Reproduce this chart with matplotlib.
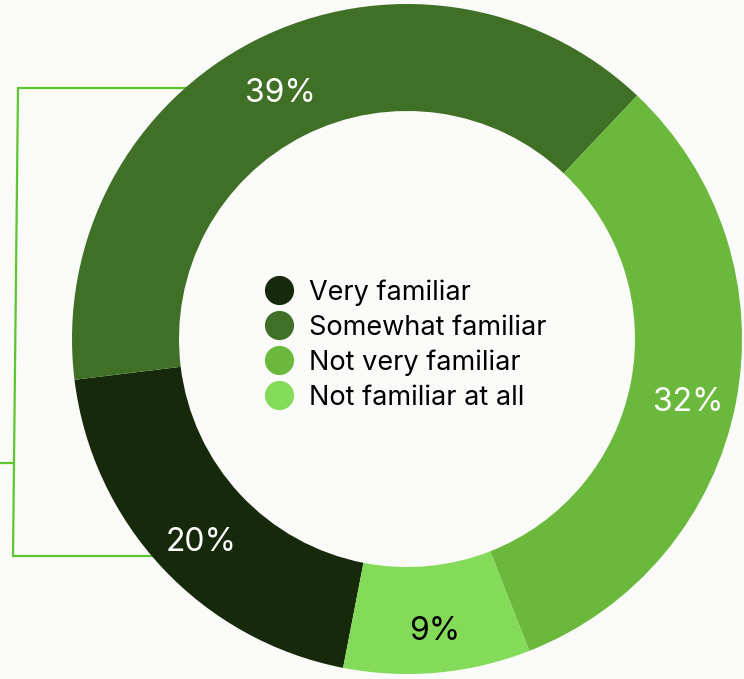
import matplotlib.pyplot as plt
from matplotlib.lines import Line2D

plt.rcParams['font.family'] = ['Inter', 'DejaVu Sans']

# survey answers, clockwise from the bottom-left
labels = ['Very familiar', 'Somewhat familiar', 'Not very familiar', 'Not familiar at all']
shares = [20, 39, 32, 9]
colors = ['#17290b', '#3f7026', '#6bb93c', '#84da59']
pct_colors = ['white', 'white', 'white', 'black']

W, H = 744, 679
bg = '#fafaf9'
line_green = '#5cc52f'

fig = plt.figure(figsize=(W / 100, H / 100), dpi=100, facecolor=bg)
ax = fig.add_axes([0, 0, 1, 1])
ax.set_facecolor(bg)

# bracket on the left edge (pixel coords, y measured from the bottom)
ax.plot([190, 18, 13, 160], [H - 88, H - 88, H - 556, H - 556],
        color=line_green, lw=1.6, solid_joinstyle='miter', zorder=1)
ax.plot([0, 13], [H - 463, H - 463], color=line_green, lw=1.6, zorder=1)

cx, cy, R = 407, H - 339, 335
wedges, texts, autotexts = ax.pie(
    shares, colors=colors, startangle=-101, counterclock=False,
    center=(cx, cy), radius=R,
    wedgeprops=dict(width=107, linewidth=0),
    autopct=lambda p: f'{p:.0f}%', pctdistance=0.85,
    textprops=dict(fontsize=23))
for t, c in zip(autotexts, pct_colors):
    t.set_color(c)
    x, y = t.get_position()
    t.set_position((x + 2, y - 9))
for w in wedges:
    w.set_zorder(2)

ax.set_xlim(0, W)
ax.set_ylim(0, H)
ax.set_aspect('equal')
ax.axis('off')

handles = [Line2D([], [], marker='o', linestyle='none', markersize=21,
                  markerfacecolor=c, markeredgewidth=0) for c in colors]
ax.legend(handles, labels, loc='center', bbox_to_anchor=(406 / W, 1 - 345 / H),
          frameon=False, fontsize=19.5, handletextpad=0.6, labelspacing=0.33,
          handlelength=1.0)

fig.savefig('out.png', dpi=100, facecolor=bg)
